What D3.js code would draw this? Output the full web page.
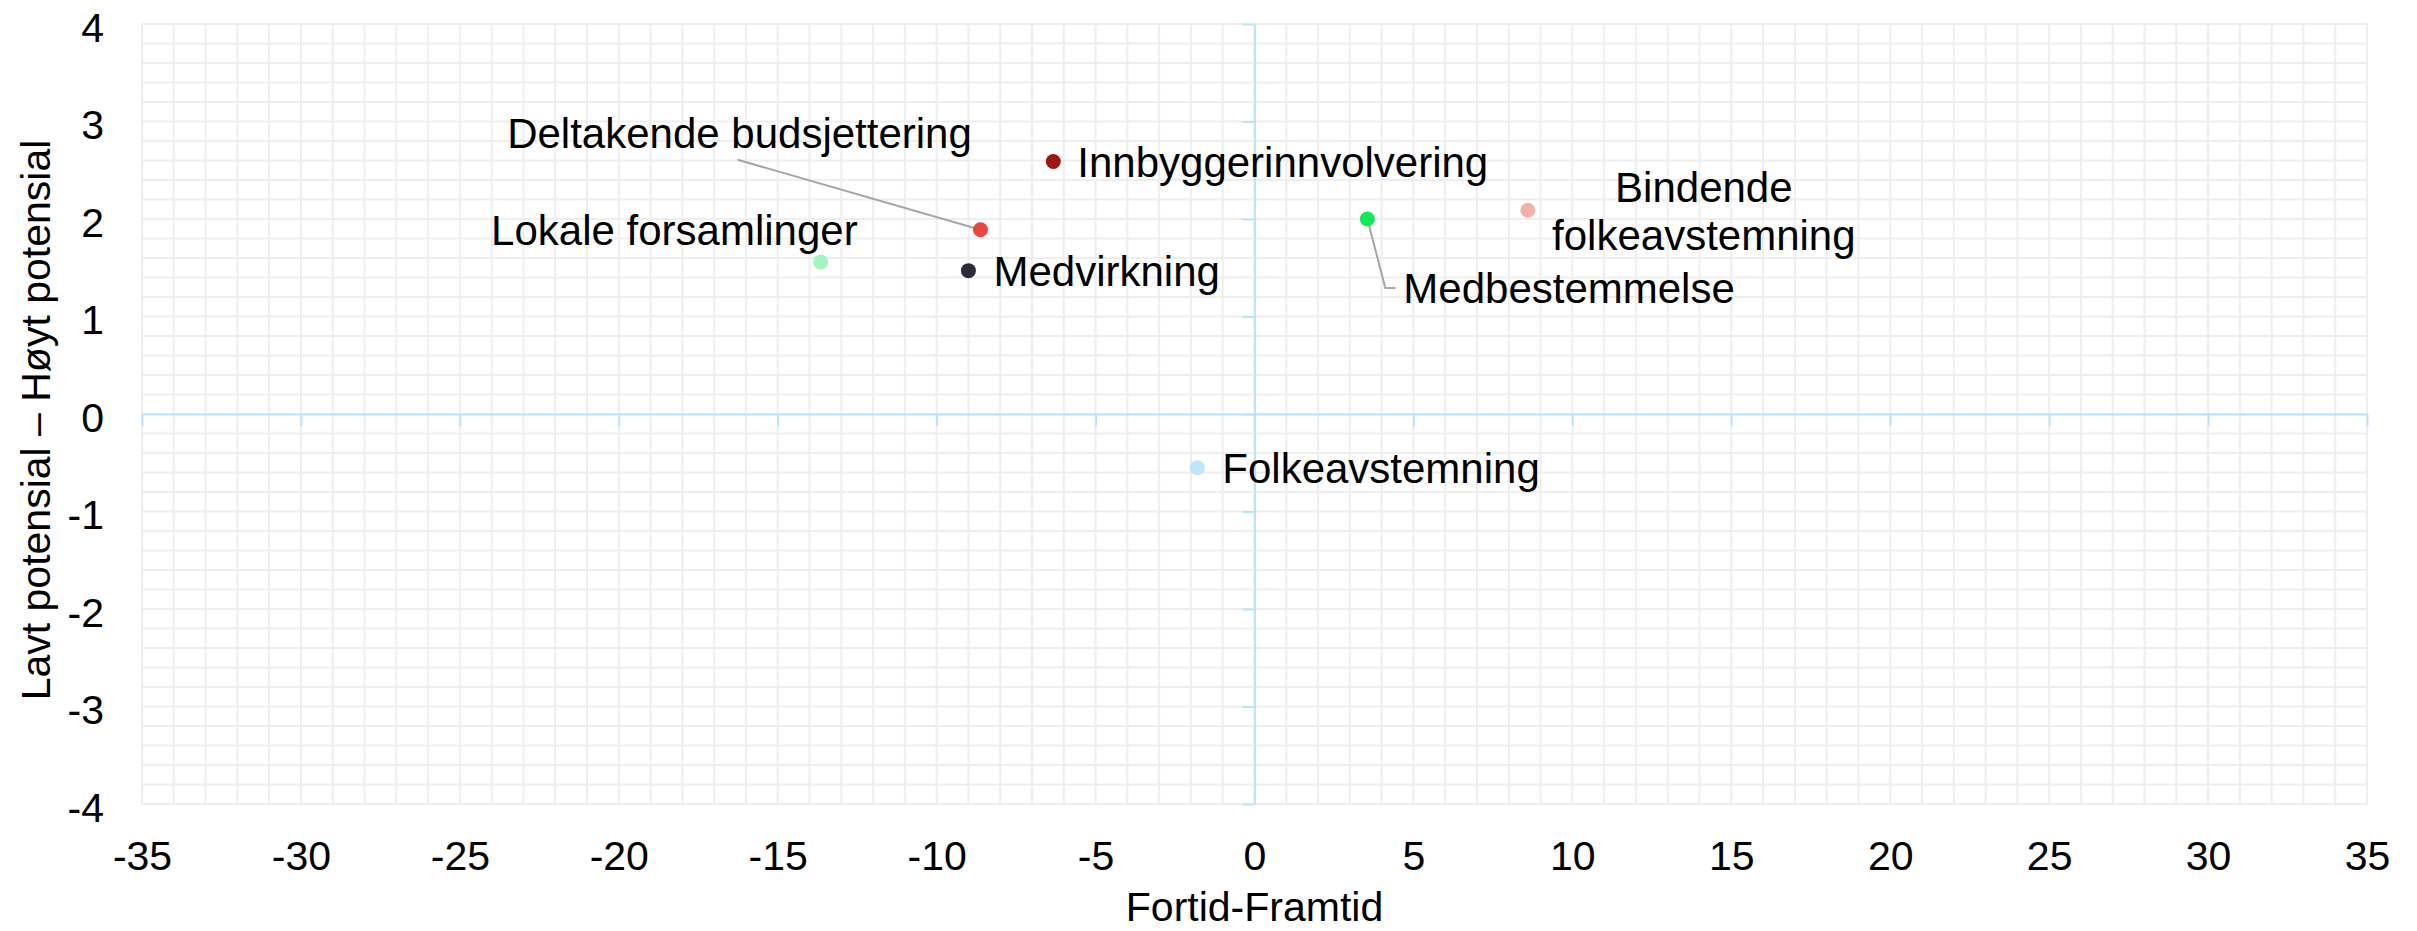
<!DOCTYPE html>
<html>
<head>
<meta charset="utf-8">
<script src="https://cdn.jsdelivr.net/npm/d3@7"></script>
<style>
  html, body { margin: 0; padding: 0; background: #fff; }
  text { font-family: "Liberation Sans", Arial, sans-serif; fill: #000; }
</style>
</head>
<body>
<div id="chart"></div>
<script>
// data
const methods = [
  'Innbyggerinnvolvering',
  'Deltakende budsjettering',
  'Lokale forsamlinger',
  'Medvirkning',
  'Medbestemmelse',
  'Bindende folkeavstemning',
  'Folkeavstemning',
];
const pastFuture = [-6.33, -8.62, -13.65, -9.0, 3.55, 8.6, -1.8];
const potential = [2.59, 1.89, 1.56, 1.47, 2.0, 2.09, -0.55];
const xTicks = [-35, -30, -25, -20, -15, -10, -5, 0, 5, 10, 15, 20, 25, 30, 35];
const yTicks = [-4, -3, -2, -1, 0, 1, 2, 3, 4];
const xTitle = 'Fortid-Framtid';
const yTitle = 'Lavt potensial – Høyt potensial';

const pointColors = ['#A01812', '#E8453C', '#A2F5BC', '#2A2C3B', '#12E858', '#F1B2A4', '#BEE4FA'];

// label placement, pixel offsets from the point
const labelLayout = {
  Innbyggerinnvolvering: { dx: 24, dy: 0, anchor: 'start' },
  'Deltakende budsjettering': { dx: -241, dy: -97, anchor: 'middle', leader: [[-243, -70]] },
  'Lokale forsamlinger': { dx: 37, dy: -32, anchor: 'end' },
  Medvirkning: { dx: 25, dy: 0, anchor: 'start' },
  Medbestemmelse: { dx: 36, dy: 69, anchor: 'start', leader: [[18, 69], [28, 69]] },
  'Bindende folkeavstemning': { dx: 176, dy: 0, anchor: 'middle', lines: [['Bindende', -23], ['folkeavstemning', 25]] },
  Folkeavstemning: { dx: 25, dy: 0, anchor: 'start' },
};

const width = 2417;
const height = 931;
const plot = { left: 142, right: 2367, top: 24, bottom: 804 };

const svg = d3.select('#chart')
  .append('svg')
  .attr('width', width)
  .attr('height', height);

const x = d3.scaleLinear().domain([-35, 35]).range([plot.left, plot.right]);
const y = d3.scaleLinear().domain([-4, 4]).range([plot.bottom, plot.top]);

// minor gridlines
const grid = svg.append('g').attr('stroke', '#EEEEEE').attr('stroke-width', 2);
grid.selectAll('line.v')
  .data(d3.range(-35, 36))
  .enter().append('line')
  .attr('class', 'v')
  .attr('x1', (d) => x(d)).attr('x2', (d) => x(d))
  .attr('y1', plot.top).attr('y2', plot.bottom);
grid.selectAll('line.h')
  .data(d3.range(0, 41).map((i) => -4 + i * 0.2))
  .enter().append('line')
  .attr('class', 'h')
  .attr('y1', (d) => y(d)).attr('y2', (d) => y(d))
  .attr('x1', plot.left).attr('x2', plot.right);

// axes crossing at zero
const axisColor = '#BDE3F8';
const xAxis = svg.append('g')
  .attr('transform', `translate(0,${y(0)})`)
  .call(d3.axisBottom(x).tickValues(xTicks).tickSize(12).tickSizeOuter(0).tickFormat(''));
const yAxis = svg.append('g')
  .attr('transform', `translate(${x(0)},0)`)
  .call(d3.axisLeft(y).tickValues(yTicks).tickSize(12).tickSizeOuter(0).tickFormat(''));
[xAxis, yAxis].forEach((a) => {
  a.selectAll('path, line').attr('stroke', axisColor).attr('stroke-width', 2);
});

// tick labels along the plot edges
const xLabels = svg.append('g')
  .attr('transform', `translate(0,${plot.bottom})`)
  .call(d3.axisBottom(x).tickValues(xTicks).tickSize(0).tickPadding(37).tickFormat((d) => String(d)));
const yLabels = svg.append('g')
  .attr('transform', `translate(${plot.left},0)`)
  .call(d3.axisLeft(y).tickValues(yTicks).tickSize(0).tickPadding(38).tickFormat((d) => String(d)));
[xLabels, yLabels].forEach((a) => {
  a.select('.domain').remove();
  a.selectAll('text')
    .attr('fill', '#000')
    .style('font-family', '"Liberation Sans", Arial, sans-serif')
    .style('font-size', '41px');
});
yLabels.selectAll('text').attr('dy', '0.42em');

// axis titles
svg.append('text')
  .attr('x', x(0))
  .attr('y', 921)
  .attr('text-anchor', 'middle')
  .style('font-size', '41px')
  .text(xTitle);
svg.append('text')
  .attr('transform', `translate(50,${(plot.top + plot.bottom) / 2 + 6}) rotate(-90)`)
  .attr('text-anchor', 'middle')
  .style('font-size', '41px')
  .text(yTitle);

// points and labels
const points = methods.map((name, i) => ({
  name, px: x(pastFuture[i]), py: y(potential[i]), color: pointColors[i], layout: labelLayout[name],
}));

const leaders = svg.append('g');
points.filter((d) => d.layout.leader).forEach((d) => {
  const pts = [[0, 0]].concat(d.layout.leader).map((p) => [d.px + p[0], d.py + p[1]]);
  leaders.append('path')
    .attr('d', d3.line()(pts))
    .attr('fill', 'none')
    .attr('stroke', '#A6A6A6')
    .attr('stroke-width', 2);
});

svg.append('g')
  .selectAll('circle')
  .data(points)
  .enter().append('circle')
  .attr('cx', (d) => d.px)
  .attr('cy', (d) => d.py)
  .attr('r', 7.5)
  .attr('fill', (d) => d.color);

const labels = svg.append('g')
  .selectAll('text')
  .data(points)
  .enter().append('text')
  .attr('x', (d) => d.px + d.layout.dx)
  .attr('y', (d) => d.py + d.layout.dy)
  .attr('text-anchor', (d) => d.layout.anchor)
  .style('font-size', '42px');

labels.filter((d) => !d.layout.lines)
  .attr('dy', '0.36em')
  .text((d) => d.name);

labels.filter((d) => d.layout.lines)
  .each(function (d) {
    d3.select(this).selectAll('tspan')
      .data(d.layout.lines)
      .enter().append('tspan')
      .attr('x', d.px + d.layout.dx)
      .attr('y', (l) => d.py + l[1])
      .attr('dy', '0.36em')
      .text((l) => l[0]);
  });
</script>
</body>
</html>
